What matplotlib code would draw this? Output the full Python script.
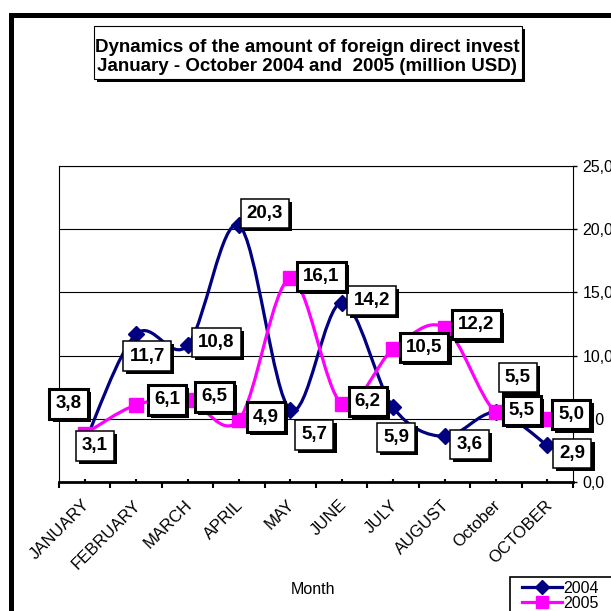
import matplotlib
matplotlib.use("Agg")
import matplotlib.pyplot as plt
import matplotlib.patheffects as pe
from matplotlib.path import Path
from matplotlib.patches import PathPatch, Rectangle
from matplotlib.lines import Line2D
from matplotlib.ticker import FuncFormatter
from matplotlib.transforms import ScaledTranslation

plt.rcParams['font.family'] = ['Liberation Sans', 'DejaVu Sans']

# -------- DATA --------
months = ["JANUARY", "FEBRUARY", "MARCH", "APRIL", "MAY",
          "JUNE", "JULY", "AUGUST", "October", "OCTOBER"]
fdi_2004 = [3.1, 11.7, 10.8, 20.3, 5.7, 14.2, 5.9, 3.6, 5.5, 2.9]
fdi_2005 = [3.8, 6.1, 6.5, 4.9, 16.1, 6.2, 10.5, 12.2, 5.5, 5.0]
y_ticks = [0, 5, 10, 15, 20, 25]

# hand-placed data labels: pixel offsets from each point (right, up)
off_2004 = [(10, -3), (11, -22), (29, 3), (26, 12), (24, -25),
            (30, 2), (3, -30), (25, -8), (22, 35), (25, -8)]
off_2005 = [(-16, 30), (31, 5), (27, 3), (27, 3), (31, 2),
            (26, 2), (31, 2), (32, 3), (26, 2), (24, 4)]

NAVY = "#000080"
MAGENTA = "#FF00FF"
W = 611.0


def fmt(v):
    return f"{v:.1f}".replace(".", ",")


# -------- SMOOTHED LINE (catmull-rom as bezier) --------
def smooth_path(xs, ys):
    pts = list(zip(xs, ys))
    pts = [pts[0]] + pts + [pts[-1]]
    verts = [pts[1]]
    codes = [Path.MOVETO]
    for i in range(1, len(pts) - 2):
        p0, p1, p2, p3 = pts[i - 1], pts[i], pts[i + 1], pts[i + 2]
        c1 = (p1[0] + (p2[0] - p0[0]) / 6, p1[1] + (p2[1] - p0[1]) / 6)
        c2 = (p2[0] - (p3[0] - p1[0]) / 6, p2[1] - (p3[1] - p1[1]) / 6)
        verts += [c1, c2, p2]
        codes += [Path.CURVE4] * 3
    return Path(verts, codes)


def shadow(artist, d=2.2):
    artist.set_path_effects([
        pe.SimplePatchShadow(offset=(d, -d), shadow_rgbFace="black", alpha=1.0),
        pe.Normal()])


fig = plt.figure(figsize=(6.11, 6.11), dpi=100, facecolor="white")

# outer chart frame (runs off the right/bottom edge)
fig.add_artist(Rectangle((10.5 / W, -0.2), 1.5, 1 - 15.3 / W + 0.2,
                         transform=fig.transFigure, fill=False,
                         ec="black", lw=3.6))

ax = fig.add_axes([59 / W, 1 - 482 / W, 514 / W, 316 / W])
x = list(range(len(months)))

ax.add_patch(PathPatch(smooth_path(x, fdi_2004), fc="none", ec=NAVY, lw=2.3, zorder=3))
ax.plot(x, fdi_2004, ls="none", marker="D", ms=8, color=NAVY, zorder=4)
ax.add_patch(PathPatch(smooth_path(x, fdi_2005), fc="none", ec=MAGENTA, lw=2.3, zorder=5))
ax.plot(x, fdi_2005, ls="none", marker="s", ms=10, color=MAGENTA, zorder=6)

ax.set_xlim(-0.5, len(months) - 0.5)
ax.set_ylim(0, 25)

# x axis
ax.set_xticks(x)
ax.set_xticklabels(months, rotation=45, ha="right", rotation_mode="anchor", fontsize=12)
ax.set_xticks([i - 0.5 for i in range(len(months) + 1)], minor=True)
ax.tick_params(axis="x", which="major", direction="in", length=2.5, width=1.5, pad=11)
ax.tick_params(axis="x", which="minor", direction="out", length=4, width=1.5)
shift = ScaledTranslation(-3 / 100, 0, fig.dpi_scale_trans)
for lbl in ax.get_xticklabels():
    lbl.set_transform(lbl.get_transform() + shift)

# y axis on the right
ax.yaxis.tick_right()
ax.set_yticks(y_ticks)
ax.yaxis.set_major_formatter(FuncFormatter(lambda v, p: fmt(v)))
ax.tick_params(axis="y", direction="out", length=3, width=1, labelsize=11.5, pad=4)
ax.grid(axis="y", color="black", lw=0.8)
ax.set_axisbelow(True)
for s in ["left", "top", "right"]:
    ax.spines[s].set_linewidth(0.8)
ax.spines["bottom"].set_linewidth(2)

# data labels
for vals, offs, lw, z in [(fdi_2004, off_2004, 1.1, 7), (fdi_2005, off_2005, 2.2, 8)]:
    for i, v in enumerate(vals):
        t = ax.annotate(fmt(v), (i, v), xytext=offs[i], textcoords="offset pixels",
                        ha="center", va="center", fontsize=13.5, fontweight="bold",
                        bbox=dict(boxstyle="square,pad=0.33", fc="white", ec="black", lw=lw),
                        zorder=z, annotation_clip=False)
        shadow(t.get_bbox_patch())

# title box
tbox = Rectangle((93.5 / W, 1 - 79 / W), 428 / W, 53 / W, transform=fig.transFigure,
                 fc="white", ec="black", lw=0.8, zorder=2)
shadow(tbox, 2.5)
fig.add_artist(tbox)
fig.text(307 / W, 1 - 57 / W,
         "Dynamics of the amount of foreign direct invest\n"
         "January - October 2004 and  2005 (million USD)",
         ha="center", va="center", fontsize=13.5, fontweight="bold",
         linespacing=1.1, zorder=3)

fig.text(313 / W, 1 - 590 / W, "Month", ha="center", va="center", fontsize=11.5)

# legend with its own frame running off the edge
fig.add_artist(Rectangle((510 / W, -0.1), 0.5, 1 - 577 / W + 0.1,
                         transform=fig.transFigure, fc="white", ec="black", lw=1.2))
handles = [Line2D([], [], color=NAVY, lw=2.3, marker="D", ms=7),
           Line2D([], [], color=MAGENTA, lw=2.3, marker="s", ms=8)]
leg = fig.legend(handles, ["2004", "2005"], loc="upper left",
                 bbox_to_anchor=(522 / W, 1 - 581 / W), fontsize=11.5,
                 frameon=False, borderpad=0, handlelength=2.5, handletextpad=0.1,
                 labelspacing=0.0, borderaxespad=0)

fig.savefig("out.png", dpi=100, facecolor="white")
